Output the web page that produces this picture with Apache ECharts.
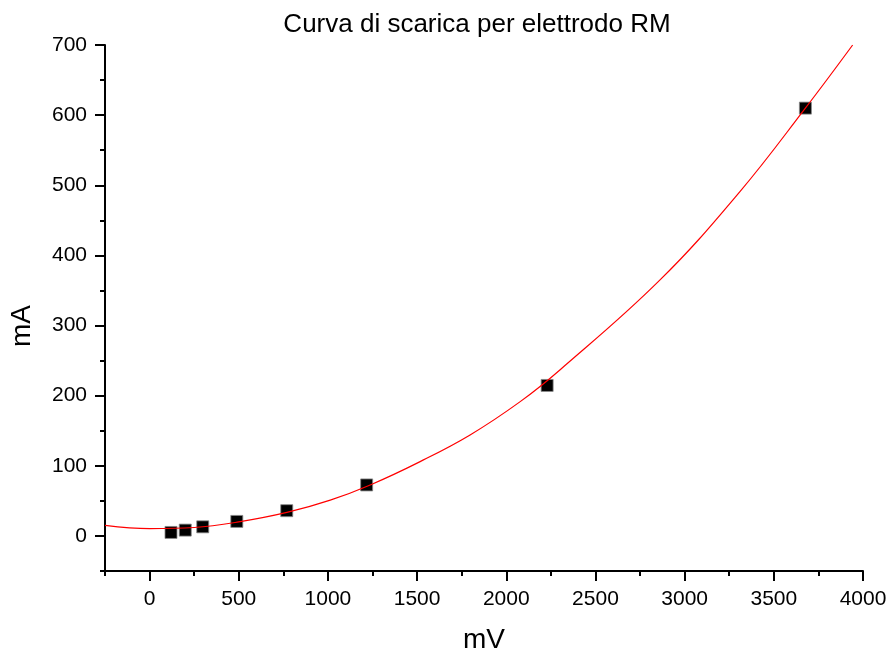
<!DOCTYPE html>
<html>
<head>
<meta charset="utf-8">
<script src="https://cdn.jsdelivr.net/npm/echarts@6/dist/echarts.min.js"></script>
<style>html,body{margin:0;padding:0;background:#fff;}#c{width:890px;height:650px;}</style>
</head>
<body>
<div id="c"></div>
<script>
// Measured points (mV, mA)
const pointsMV = [120, 200, 298, 489, 769, 1217, 2229, 3677];
const pointsMA = [5, 8.3, 13, 20.7, 36, 72.7, 214.6, 610];
// Fit curve (mV, mA)
const curveMV = [-250, 0, 250, 500, 770, 1013, 1237, 1517, 1797, 2078, 2302, 2862, 3310, 3677, 3942];
const curveMA = [15, 10.4, 12, 20, 33.5, 51, 72.7, 106, 144, 191.5, 237, 365, 491, 610, 700];
// Tick values
const xMajor = [0, 500, 1000, 1500, 2000, 2500, 3000, 3500, 4000];
const xMinor = [-250, 250, 750, 1250, 1750, 2250, 2750, 3250, 3750];
const yMajor = [0, 100, 200, 300, 400, 500, 600, 700];
const yMinor = [-50, 50, 150, 250, 350, 450, 550, 650];

const FONT = '"Liberation Sans", Arial, sans-serif';
const chart = echarts.init(document.getElementById('c'), null, {renderer: 'canvas'});

const xBase = {type: 'value', min: -250, max: 4000, splitLine: {show: false}};
const yBase = {type: 'value', min: -50, max: 700, splitLine: {show: false}};
const plain = v => String(v);

chart.setOption({
  animation: false,
  backgroundColor: '#ffffff',
  title: {
    text: 'Curva di scarica per elettrodo RM',
    left: 472, top: 7, textAlign: 'center',
    textStyle: {fontFamily: FONT, fontSize: 26, fontWeight: 'normal', color: '#000'}
  },
  grid: {left: 105, right: 27, top: 45, bottom: 79, containLabel: false, outerBoundsMode: 'none'},
  xAxis: [
    Object.assign({}, xBase, {
      position: 'bottom',
      name: 'mV', nameLocation: 'middle', nameGap: 55,
      nameTextStyle: {fontFamily: FONT, fontSize: 28, color: '#000'},
      axisLine: {show: true, onZero: false, lineStyle: {color: '#000', width: 2}},
      axisTick: {show: true, inside: false, length: 10, lineStyle: {color: '#000', width: 2}, customValues: xMajor},
      axisLabel: {show: true, margin: 18, fontFamily: FONT, fontSize: 21, color: '#000', customValues: xMajor, formatter: plain}
    }),
    Object.assign({}, xBase, {
      position: 'bottom',
      axisLine: {show: false, onZero: false},
      axisTick: {show: true, inside: false, length: 5, lineStyle: {color: '#000', width: 2}, customValues: xMinor},
      axisLabel: {show: false}
    })
  ],
  yAxis: [
    Object.assign({}, yBase, {
      position: 'left',
      name: 'mA', nameLocation: 'middle', nameGap: 69, nameRotate: 90,
      nameTextStyle: {fontFamily: FONT, fontSize: 28, color: '#000', padding: [0, 36, 0, 0]},
      axisLine: {show: true, onZero: false, lineStyle: {color: '#000', width: 2}},
      axisTick: {show: true, inside: false, length: 10, lineStyle: {color: '#000', width: 2}, customValues: yMajor},
      axisLabel: {show: true, margin: 18, fontFamily: FONT, fontSize: 21, color: '#000', customValues: yMajor, formatter: plain}
    }),
    Object.assign({}, yBase, {
      position: 'left',
      axisLine: {show: false, onZero: false},
      axisTick: {show: true, inside: false, length: 5, lineStyle: {color: '#000', width: 2}, customValues: yMinor},
      axisLabel: {show: false}
    })
  ],
  series: [
    {
      type: 'scatter',
      xAxisIndex: 0, yAxisIndex: 0,
      data: pointsMV.map((x, i) => [x, pointsMA[i]]),
      symbol: 'rect',
      symbolSize: 12,
      itemStyle: {color: '#000', opacity: 1, borderColor: '#888', borderWidth: 0.8},
      z: 2
    },
    {
      type: 'line',
      xAxisIndex: 0, yAxisIndex: 0,
      data: curveMV.map((x, i) => [x, curveMA[i]]),
      smooth: 0.4,
      showSymbol: false,
      lineStyle: {color: '#ff0000', width: 1.2},
      z: 3
    }
  ]
});
</script>
</body>
</html>
